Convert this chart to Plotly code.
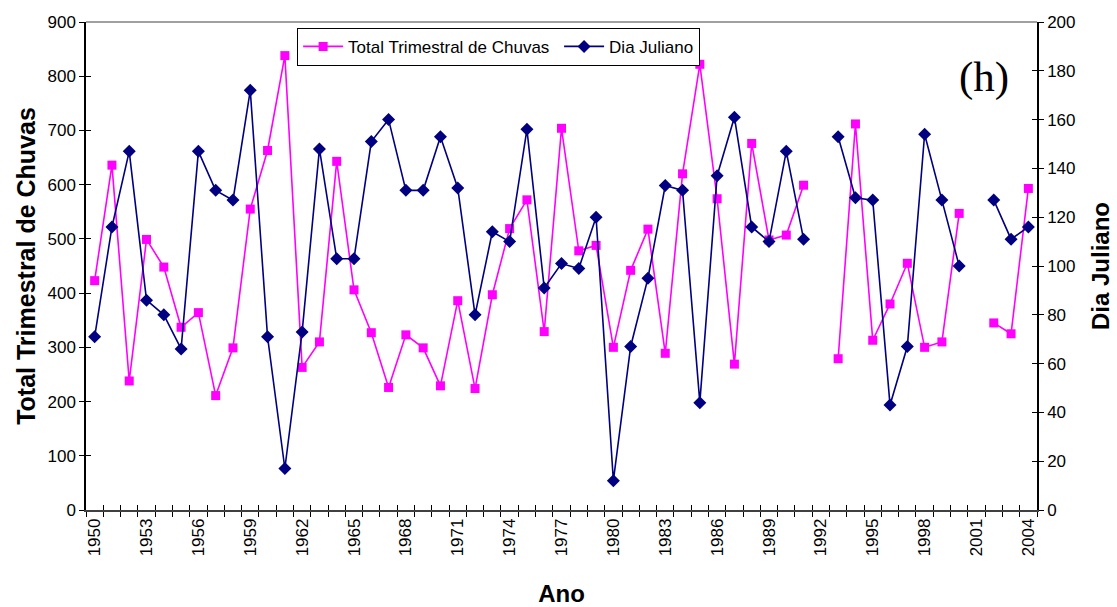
import plotly.graph_objects as go

# Years on the category axis
anos = list(range(1950, 2005))

# Quarterly rainfall total (left axis); None where no record exists
total_chuvas = [423, 636, 238, 499, 448, 337, 364, 211, 299, 555,
                663, 838, 263, 310, 643, 406, 327, 226, 323, 299,
                229, 386, 224, 397, 519, 572, 329, 704, 478, 488,
                300, 442, 518, 289, 620, 822, 574, 269, 676, 498,
                507, 599, None, 279, 712, 313, 380, 455, 300, 310,
                547, None, 345, 325, 593]

# Julian day (right axis)
dia_juliano = [71, 116, 147, 86, 80, 66, 147, 131, 127, 172,
               71, 17, 73, 148, 103, 103, 151, 160, 131, 131,
               153, 132, 80, 114, 110, 156, 91, 101, 99, 120,
               12, 67, 95, 133, 131, 44, 137, 161, 116, 110,
               147, 111, None, 153, 128, 127, 43, 67, 154, 127,
               100, None, 127, 111, 116]

rotulos_x = list(range(1950, 2005, 3))

FONTE = "Liberation Sans, Arial, sans-serif"
ROSA = "#FF00FF"
AZUL = "#000080"
NBSP = "\u00a0"

fig = go.Figure()

fig.add_trace(go.Scatter(
    x=anos, y=total_chuvas, name="Total Trimestral de Chuvas" + NBSP,
    mode="lines+markers", connectgaps=False,
    line=dict(color=ROSA, width=1.6),
    marker=dict(symbol="square", size=9, color=ROSA),
    yaxis="y", xaxis="x",
))

fig.add_trace(go.Scatter(
    x=anos, y=dia_juliano, name="Dia Juliano",
    mode="lines+markers", connectgaps=False,
    line=dict(color=AZUL, width=1.6),
    marker=dict(symbol="diamond", size=10, color=AZUL),
    yaxis="y2", xaxis="x",
))

TICKS = dict(family=FONTE, size=17, color="black")
TITULO = dict(family=FONTE, size=24, color="black")

fig.update_layout(
    width=1117, height=607,
    margin=dict(l=86, r=80, t=22, b=97),
    paper_bgcolor="white", plot_bgcolor="white",
    showlegend=True,
    legend=dict(
        orientation="h", x=0.222, y=0.988, xanchor="left", yanchor="top",
        bordercolor="black", borderwidth=1, bgcolor="white",
        font=dict(family=FONTE, size=17, color="black"),
        itemwidth=40, tracegroupgap=0,
    ),
    xaxis=dict(
        range=[1949.5, 2004.5], automargin=False,
        tickmode="array", tickvals=rotulos_x, ticktext=[str(a) for a in rotulos_x],
        tickangle=-90, ticks="", ticklen=0,
        tickfont=TICKS,
        showgrid=False, zeroline=False,
        showline=True, linecolor="#404040", linewidth=1.5,
        minor=dict(tick0=1949.5, dtick=1, ticks="outside", ticklen=5,
                   tickcolor="black", tickwidth=1, showgrid=False),
        title=dict(text="<b>Ano</b>", font=TITULO, standoff=32),
    ),
    # companion axis: inner half of the crossing tick marks on the category axis
    xaxis2=dict(
        range=[1949.5, 2004.5], overlaying="x", anchor="y", side="bottom",
        automargin=False,
        showticklabels=False, showgrid=False, zeroline=False, showline=False,
        tickmode="linear", tick0=1949.5, dtick=1,
        ticks="inside", ticklen=5, tickcolor="black", tickwidth=1,
    ),
    yaxis=dict(
        range=[0, 900], tickmode="linear", tick0=0, dtick=100, automargin=False,
        ticks="outside", ticklen=5, tickcolor="black",
        tickfont=TICKS,
        showgrid=False, zeroline=False,
        showline=True, linecolor="black", linewidth=1.5,
        title=dict(text="<b>Total Trimestral de Chuvas</b>",
                   font=dict(family=FONTE, size=25, color="black"), standoff=5),
    ),
    yaxis2=dict(
        range=[0, 200], tickmode="linear", tick0=0, dtick=20, automargin=False,
        overlaying="y", side="right", anchor="x",
        ticks="outside", ticklen=5, tickcolor="black",
        tickfont=TICKS,
        showgrid=False, zeroline=False,
        showline=True, linecolor="black", linewidth=1.5,
        title=dict(text="<b>Dia Juliano</b>", font=TITULO, standoff=18),
    ),
    # companion axes: inner halves of the crossing tick marks on both value axes
    yaxis3=dict(
        range=[0, 900], tickmode="linear", tick0=0, dtick=100,
        overlaying="y", side="left", anchor="x", automargin=False,
        ticks="inside", ticklen=5, tickcolor="black",
        showticklabels=False, showgrid=False, zeroline=False, showline=False,
    ),
    yaxis4=dict(
        range=[0, 200], tickmode="linear", tick0=0, dtick=20,
        overlaying="y", side="right", anchor="x", automargin=False,
        ticks="inside", ticklen=5, tickcolor="black",
        showticklabels=False, showgrid=False, zeroline=False, showline=False,
    ),
    shapes=[
        # top border of the plotting area
        dict(type="line", xref="paper", yref="paper", x0=0, x1=1, y0=1, y1=1,
             line=dict(color="#808080", width=1.5)),
    ],
    annotations=[
        dict(text="(h)", xref="paper", yref="paper", x=0.973, y=0.888,
             xanchor="right", yanchor="middle", showarrow=False,
             font=dict(family="Liberation Serif, Times New Roman, serif",
                       size=43, color="black")),
    ],
)

# invisible traces so the companion axes are rendered
fig.add_trace(go.Scatter(x=[None], y=[None], xaxis="x2", yaxis="y3",
                         showlegend=False, hoverinfo="skip"))
fig.add_trace(go.Scatter(x=[None], y=[None], xaxis="x2", yaxis="y4",
                         showlegend=False, hoverinfo="skip"))

fig.write_html("out.html")
